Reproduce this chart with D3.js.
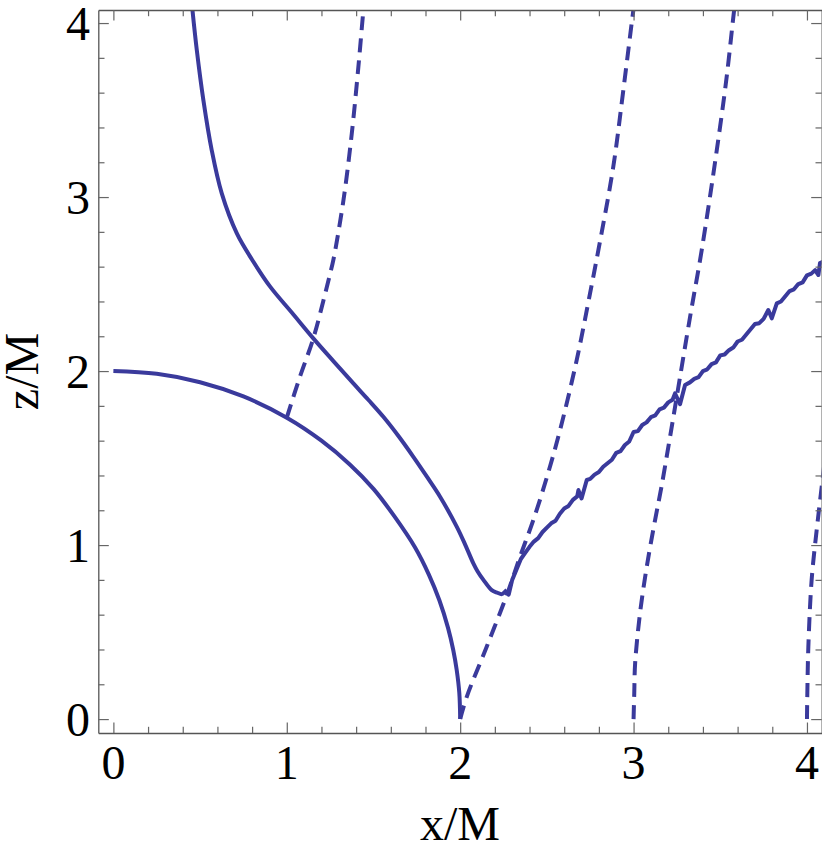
<!DOCTYPE html>
<html>
<head>
<meta charset="utf-8">
<script src="https://cdn.jsdelivr.net/npm/d3@7"></script>
<style>
  html, body { margin: 0; padding: 0; background: #fff; }
  svg { display: block; }
</style>
</head>
<body>
<svg id="chart" width="822" height="857"></svg>
<script>
// ---------------- data (x/M, z/M) ----------------
const xMajorTicks = [0, 1, 2, 3, 4];
const yMajorTicks = [0, 1, 2, 3, 4];
const xTickLabels = ["0", "1", "2", "3", "4"];
const yTickLabels = ["0", "1", "2", "3", "4"];
const xMinorTicks = [0.2,0.4,0.6,0.8,1.2,1.4,1.6,1.8,2.2,2.4,2.6,2.8,3.2,3.4,3.6,3.8];
const yMinorTicks = [0.2,0.4,0.6,0.8,1.2,1.4,1.6,1.8,2.2,2.4,2.6,2.8,3.2,3.4,3.6,3.8];

// solid: horizon arc
const horizonX = [0, 0.25, 0.5, 0.75, 1.0, 1.2, 1.365, 1.5, 1.62, 1.74, 1.82, 1.88, 1.93, 1.96, 1.98, 1.995, 2.0];
const horizonZ = [2.0, 1.984, 1.936, 1.854, 1.732, 1.6, 1.462, 1.323, 1.166, 0.986, 0.829, 0.683, 0.524, 0.397, 0.282, 0.15, 0.0];

// solid: surface curve, descending branch down to the cusp
const surfDownX = [0.456, 0.481, 0.519, 0.567, 0.625, 0.712, 0.80, 0.904, 1.03, 1.153, 1.27, 1.384, 1.47, 1.557, 1.645, 1.730, 1.81, 1.884, 1.98, 2.03, 2.076, 2.10, 2.134, 2.182, 2.215, 2.240, 2.262, 2.269];
const surfDownZ = [4.075, 3.845, 3.557, 3.27, 3.021, 2.791, 2.64, 2.485, 2.335, 2.188, 2.056, 1.929, 1.835, 1.737, 1.625, 1.507, 1.39, 1.278, 1.106, 1.0, 0.895, 0.85, 0.80, 0.741, 0.726, 0.718, 0.735, 0.742];
// rising jagged branch from the cusp
const surfUpX = [2.269, 2.28, 2.30, 2.325, 2.35, 2.375, 2.40, 2.425, 2.45, 2.475, 2.50, 2.525, 2.55, 2.575, 2.60, 2.625, 2.65, 2.675, 2.682, 2.70, 2.73, 2.75, 2.775, 2.80, 2.825, 2.85, 2.875, 2.90, 2.925, 2.95, 2.975, 3.00, 3.025, 3.05, 3.075, 3.10, 3.125, 3.15, 3.175, 3.20, 3.225, 3.239, 3.268, 3.297, 3.325, 3.35, 3.375, 3.40, 3.425, 3.45, 3.475, 3.50, 3.525, 3.55, 3.575, 3.60, 3.625, 3.65, 3.675, 3.70, 3.725, 3.75, 3.777, 3.797, 3.826, 3.85, 3.875, 3.90, 3.925, 3.95, 3.975, 4.00, 4.025, 4.047, 4.066, 4.075, 4.12];
const surfUpZ = [0.742, 0.715, 0.80, 0.86, 0.92, 0.955, 0.99, 1.02, 1.04, 1.075, 1.10, 1.125, 1.14, 1.18, 1.21, 1.225, 1.26, 1.28, 1.316, 1.268, 1.374, 1.38, 1.405, 1.42, 1.45, 1.47, 1.49, 1.53, 1.54, 1.575, 1.595, 1.65, 1.655, 1.69, 1.705, 1.735, 1.745, 1.78, 1.79, 1.82, 1.835, 1.872, 1.81, 1.92, 1.935, 1.955, 1.965, 2.0, 2.01, 2.04, 2.05, 2.09, 2.095, 2.12, 2.135, 2.17, 2.18, 2.21, 2.24, 2.27, 2.275, 2.30, 2.351, 2.303, 2.389, 2.40, 2.43, 2.46, 2.47, 2.50, 2.51, 2.55, 2.56, 2.58, 2.552, 2.62, 2.64];

// dashed rays
const rayAX = [1.0, 1.07, 1.153, 1.21, 1.25, 1.269, 1.327, 1.375, 1.413, 1.442, 1.45];
const rayAZ = [1.732, 1.95, 2.188, 2.40, 2.56, 2.64, 2.983, 3.366, 3.749, 4.075, 4.15];
const rayBX = [2.0, 2.038, 2.153, 2.269, 2.345, 2.422, 2.50, 2.576, 2.672, 2.749, 2.797, 2.883, 2.941, 2.999, 3.01];
const rayBZ = [0.0, 0.128, 0.416, 0.713, 0.933, 1.144, 1.39, 1.661, 2.063, 2.447, 2.695, 3.174, 3.615, 4.075, 4.15];
const rayCX = [3.0, 3.004, 3.009, 3.037, 3.076, 3.124, 3.160, 3.205, 3.249, 3.326, 3.393, 3.480, 3.537, 3.58, 3.59];
const rayCZ = [0.0, 0.15, 0.32, 0.607, 0.875, 1.144, 1.33, 1.59, 1.852, 2.312, 2.695, 3.27, 3.691, 4.075, 4.15];
const rayDX = [4.0, 4.003, 4.008, 4.027, 4.056, 4.085, 4.11];
const rayDZ = [0.0, 0.2, 0.416, 0.80, 1.086, 1.335, 1.55];

// ---------------- chart ----------------
const color = "#3a3a9c";
const svg = d3.select("#chart");
const pLeft = 98.3, pRight = 821.7, pTop = 10, pBottom = 733;
const x = d3.scaleLinear().domain([-0.087, 4.085]).range([pLeft, pRight]);
const y = d3.scaleLinear().domain([-0.08, 4.075]).range([pBottom, pTop]);

svg.append("defs").append("clipPath").attr("id", "clip")
  .append("rect").attr("x", pLeft).attr("y", pTop).attr("width", pRight - pLeft).attr("height", pBottom - pTop);

const zip = (xs, zs) => xs.map((v, i) => [v, zs[i]]);
const line = d3.line().x(d => x(d[0])).y(d => y(d[1])).curve(d3.curveCatmullRom.alpha(0.5));
const lineLin = d3.line().x(d => x(d[0])).y(d => y(d[1]));

const plot = svg.append("g").attr("clip-path", "url(#clip)");
const series = [
  { d: zip(horizonX, horizonZ), dash: null, gen: line },
  { d: zip(surfDownX, surfDownZ), dash: null, gen: line },
  { d: zip(surfUpX, surfUpZ), dash: null, gen: lineLin },
  { d: zip(rayAX, rayAZ), dash: "14,8", gen: line },
  { d: zip(rayBX, rayBZ), dash: "14,8", gen: line },
  { d: zip(rayCX, rayCZ), dash: "14,8", gen: line },
  { d: zip(rayDX, rayDZ), dash: "14,8", gen: line }
];
series.forEach(s => {
  plot.append("path").attr("d", s.gen(s.d))
    .attr("fill", "none").attr("stroke", color).attr("stroke-width", 4)
    .attr("stroke-linejoin", "round")
    .attr("stroke-dasharray", s.dash);
});

// frame axes
const frameColor = "#555";
function styleAxis(g) {
  g.select(".domain").attr("stroke", frameColor).attr("stroke-width", 1.3);
  g.selectAll(".tick line").attr("stroke", "#666").attr("stroke-width", 1.2);
  g.selectAll("text").remove();
}
const majorLen = 10.5, minorLen = 6.2;
const gb = svg.append("g").attr("transform", `translate(0,${pBottom})`);
gb.call(d3.axisBottom(x).tickValues(xMajorTicks.concat(xMinorTicks)).tickSizeOuter(0).tickSizeInner(-minorLen)).call(styleAxis);
gb.selectAll(".tick line").filter(d => xMajorTicks.includes(d)).attr("y2", -majorLen);
const gt = svg.append("g").attr("transform", `translate(0,${pTop})`);
gt.call(d3.axisTop(x).tickValues(xMajorTicks.concat(xMinorTicks)).tickSizeOuter(0).tickSizeInner(-minorLen)).call(styleAxis);
gt.selectAll(".tick line").filter(d => xMajorTicks.includes(d)).attr("y2", majorLen);
const gl = svg.append("g").attr("transform", `translate(${pLeft},0)`);
gl.call(d3.axisLeft(y).tickValues(yMajorTicks.concat(yMinorTicks)).tickSizeOuter(0).tickSizeInner(-minorLen)).call(styleAxis);
gl.selectAll(".tick line").filter(d => yMajorTicks.includes(d)).attr("x2", majorLen);
const gr = svg.append("g").attr("transform", `translate(${pRight},0)`);
gr.call(d3.axisRight(y).tickValues(yMajorTicks.concat(yMinorTicks)).tickSizeOuter(0).tickSizeInner(-minorLen)).call(styleAxis);
gr.selectAll(".tick line").filter(d => yMajorTicks.includes(d)).attr("x2", -majorLen);

// tick labels
const font = "'Liberation Serif', 'Times New Roman', serif";
svg.append("g").selectAll("text").data(xMajorTicks).join("text")
  .attr("x", d => x(d)).attr("y", 779)
  .attr("text-anchor", "middle").attr("font-family", font).attr("font-size", 48).attr("fill", "#000")
  .text((d, i) => xTickLabels[i]);
svg.append("g").selectAll("text").data(yMajorTicks).join("text")
  .attr("x", 90).attr("y", d => y(d) + 16.5)
  .attr("text-anchor", "end").attr("font-family", font).attr("font-size", 48).attr("fill", "#000")
  .text((d, i) => yTickLabels[i]);

// axis titles
svg.append("text").attr("x", (pLeft + pRight) / 2).attr("y", 840)
  .attr("text-anchor", "middle").attr("font-family", font).attr("font-size", 48).attr("fill", "#000")
  .text("x/M");
svg.append("text").attr("transform", `translate(38,${(pTop + pBottom) / 2}) rotate(-90)`)
  .attr("text-anchor", "middle").attr("font-family", font).attr("font-size", 48).attr("fill", "#000")
  .text("z/M");
</script>
</body>
</html>
